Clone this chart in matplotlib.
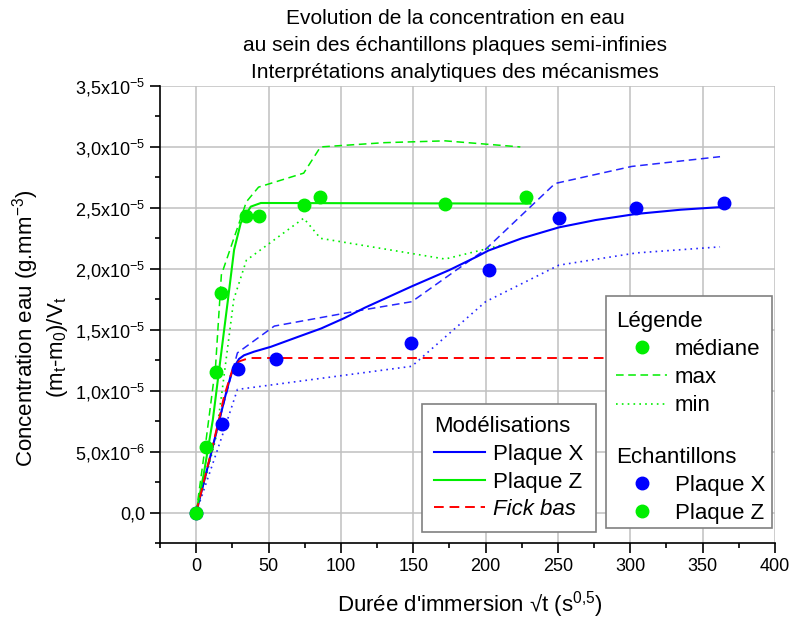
import numpy as np
import matplotlib
matplotlib.use("Agg")
import matplotlib.pyplot as plt
from matplotlib.lines import Line2D
from matplotlib.patches import Rectangle
from matplotlib.ticker import FuncFormatter, MultipleLocator

# --- donnees (y en 1e-5 g.mm-3) ---
# modelisations
modX_x = [0, 10, 20, 23.8, 27, 29.6, 33, 40, 51.6, 70, 86.3, 102.5, 116.4, 148.8, 175, 194, 202,
          225, 250.7, 276, 304, 335, 362]
modX_y = [0, 0.47, 0.95, 1.12, 1.21, 1.26, 1.29, 1.32, 1.36, 1.44, 1.51, 1.596, 1.68, 1.855, 1.99,
          2.10, 2.15, 2.25, 2.34, 2.40, 2.45, 2.485, 2.506]
modZ_x = [0, 5, 11.5, 17, 22, 26.2, 30.8, 37.7, 44.7, 231]
modZ_y = [0, 0.3, 0.76, 1.28, 1.75, 2.156, 2.375, 2.51, 2.54, 2.535]
fick_x = [0, 10, 15.7, 19.2, 25, 29.6, 36.6, 360]
fick_y = [0, 0.48, 0.76, 0.95, 1.17, 1.24, 1.268, 1.268]

# enveloppes max / min
maxX_x = [0, 18, 28.5, 54, 114, 149, 200, 248, 301, 362]
maxX_y = [0, 0.85, 1.31, 1.53, 1.66, 1.73, 2.16, 2.70, 2.84, 2.92]
minX_x = [0, 18, 28.5, 149, 200, 250.7, 304, 362]
minX_y = [0, 0.63, 1.01, 1.20, 1.73, 2.03, 2.13, 2.18]
maxZ_x = [0, 6.9, 13.4, 17.4, 34.7, 43.1, 74.3, 85.9, 130, 172, 224]
maxZ_y = [0, 0.6, 1.2, 1.95, 2.55, 2.67, 2.785, 3.0, 3.035, 3.05, 3.0]
minZ_x = [0, 6.9, 13.4, 17.4, 26, 34.7, 74.3, 85.9, 172, 213]
minZ_y = [0, 0.3, 0.6, 0.95, 1.75, 2.07, 2.415, 2.25, 2.08, 2.2]

# echantillons (medianes)
echX_x = [0, 18, 29, 55.3, 148.8, 202.6, 250.7, 304, 364.6]
echX_y = [0, 0.73, 1.178, 1.26, 1.39, 1.99, 2.42, 2.50, 2.54]
echZ_x = [0, 6.9, 13.4, 17.4, 34.7, 43.1, 74.3, 85.9, 172, 227.8]
echZ_y = [0, 0.539, 1.153, 1.80, 2.43, 2.43, 2.52, 2.59, 2.535, 2.59]

sc = 1e-5
blue = '#0000ff'
green = '#00ee00'
red = '#ff0000'

plt.rcParams['font.family'] = ['Liberation Sans', 'DejaVu Sans']
plt.rcParams['mathtext.fontset'] = 'custom'
plt.rcParams['mathtext.rm'] = 'Liberation Sans'
plt.rcParams['mathtext.it'] = 'Liberation Sans:italic'
plt.rcParams['mathtext.default'] = 'regular'

fig = plt.figure(figsize=(8, 6.23), dpi=100)
ax = fig.add_axes([160/800, 1-543/623, 615/800, 457/623])

dash = (0, (5, 3))
dot = (0, (1, 2.5))

ax.plot(maxX_x, np.array(maxX_y)*sc, color=blue, linestyle=dash, linewidth=1.1, alpha=0.85)
ax.plot(minX_x, np.array(minX_y)*sc, color=blue, linestyle=dot, linewidth=1.2, alpha=0.85)
ax.plot(maxZ_x, np.array(maxZ_y)*sc, color=green, linestyle=dash, linewidth=1.1)
ax.plot(minZ_x, np.array(minZ_y)*sc, color=green, linestyle=dot, linewidth=1.2)

ax.plot(modX_x, np.array(modX_y)*sc, color=blue, linewidth=1.5)
ax.plot(modZ_x, np.array(modZ_y)*sc, color=green, linewidth=1.5)
ax.plot(fick_x, np.array(fick_y)*sc, color=red, linestyle=dash, linewidth=1.4)

ax.plot(echX_x, np.array(echX_y)*sc, 'o', color=blue, markersize=9, zorder=3)
ax.plot(echZ_x, np.array(echZ_y)*sc, 'o', color=green, markersize=9, zorder=3)

ax.set_xlim(-25, 400)
ax.set_ylim(-0.25e-5, 3.5e-5)
ax.xaxis.set_major_locator(MultipleLocator(50))
ax.xaxis.set_minor_locator(MultipleLocator(25))
ax.yaxis.set_major_locator(MultipleLocator(0.5e-5))
ax.yaxis.set_minor_locator(MultipleLocator(0.25e-5))


def fmt_y(v, pos):
    if abs(v) < 1e-12:
        return '0,0'
    e = int(np.floor(np.log10(abs(v)) + 1e-9))
    m = v / 10**e
    return ('%.1f' % m).replace('.', ',') + 'x10$^{%d}$' % e


ax.yaxis.set_major_formatter(FuncFormatter(fmt_y))
ax.xaxis.set_major_formatter(FuncFormatter(lambda v, p: '%d' % v if v >= 0 else ''))

ax.spines['top'].set_visible(False)
ax.spines['right'].set_visible(False)
for s in ['left', 'bottom']:
    ax.spines[s].set_linewidth(1.2)
ax.tick_params(which='major', length=7, width=1.2, labelsize=13, direction='out')
ax.tick_params(which='minor', length=3.5, width=1.2, direction='out')
ax.grid(which='major', color='#c0c0c0', linewidth=1.1)
ax.set_axisbelow(True)

fig.text(455/800, 1-9/623, "Evolution de la concentration en eau\n"
         "au sein des échantillons plaques semi-infinies\n"
         "Interprétations analytiques des mécanismes",
         ha='center', va='top', fontsize=15, linespacing=1.55)

fig.text(470/800, 1-605/623, "Durée d'immersion √t (s$^{0{,}5}$)",
         ha='center', va='center', fontsize=16)
fig.text(26/800, 1-328/623, "Concentration eau (g.mm$^{-3}$)",
         ha='center', va='center', rotation=90, fontsize=16)
fig.text(58/800, 1-347/623, "(m$_t$-m$_0$)/V$_t$",
         ha='center', va='center', rotation=90, fontsize=16)

# legende des modelisations
h_mod = [Line2D([], [], color=blue, linewidth=1.5),
         Line2D([], [], color=green, linewidth=1.5),
         Line2D([], [], color=red, linestyle=dash, linewidth=1.4)]
leg1 = ax.legend(h_mod, ['Plaque X', 'Plaque Z', 'Fick bas'], title='Modélisations',
                 loc='upper left', bbox_to_anchor=(422/800, 1-404/623),
                 bbox_transform=fig.transFigure, borderaxespad=0, fontsize=16,
                 title_fontsize=16, alignment='left', fancybox=False, framealpha=1,
                 edgecolor='#808080', handlelength=2.3, handletextpad=0.35,
                 labelspacing=0.3, borderpad=0.55)
leg1.get_frame().set_linewidth(1.2)
leg1.get_texts()[2].set_style('italic')
ax.add_artist(leg1)

# cadre de la legende de droite
box = Rectangle((606/800, 1-528/623), 166/800, 232/623, transform=fig.transFigure,
                facecolor='white', edgecolor='#808080', linewidth=1.2, zorder=4)
ax.add_patch(box)
box.set_clip_on(False)

h_leg = [Line2D([], [], color=green, marker='o', linestyle='none', markersize=9),
         Line2D([], [], color=green, linestyle=dash, linewidth=1.1),
         Line2D([], [], color=green, linestyle=dot, linewidth=1.2)]
leg2 = ax.legend(h_leg, ['médiane', 'max', 'min'], title='Légende',
                 loc='upper left', bbox_to_anchor=(616/800, 1-311/623),
                 bbox_transform=fig.transFigure, borderaxespad=0, borderpad=0,
                 fontsize=16, title_fontsize=16, alignment='left', frameon=False,
                 handlelength=2.3, handletextpad=0.35, labelspacing=0.32)
leg2.set_zorder(5)
ax.add_artist(leg2)

h_ech = [Line2D([], [], color=blue, marker='o', linestyle='none', markersize=9),
         Line2D([], [], color=green, marker='o', linestyle='none', markersize=9)]
leg3 = ax.legend(h_ech, ['Plaque X', 'Plaque Z'], title='Echantillons',
                 loc='upper left', bbox_to_anchor=(616/800, 1-447/623),
                 bbox_transform=fig.transFigure, borderaxespad=0, borderpad=0,
                 fontsize=16, title_fontsize=16, alignment='left', frameon=False,
                 handlelength=2.3, handletextpad=0.35, labelspacing=0.32)
leg3.set_zorder(5)

fig.savefig('out.png', dpi=100)
